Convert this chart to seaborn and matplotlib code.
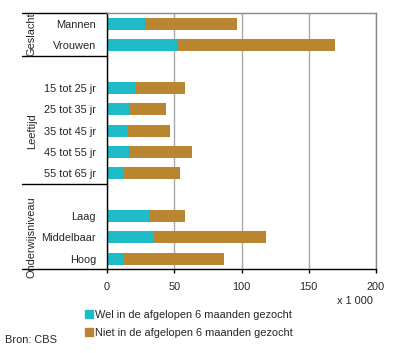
import pandas as pd
import matplotlib
matplotlib.use("Agg")
import matplotlib.pyplot as plt
import matplotlib.patches as mpatches
import matplotlib.transforms as mtrans
import seaborn as sns

# Data (x 1 000)
categorieen = ["Mannen", "Vrouwen",
               "15 tot 25 jr", "25 tot 35 jr", "35 tot 45 jr", "45 tot 55 jr", "55 tot 65 jr",
               "Laag", "Middelbaar", "Hoog"]
wel_gezocht = [28.6, 52.0, 20.6, 16.2, 14.7, 16.7, 11.7, 31.6, 34.6, 12.2]
niet_gezocht = [68.2, 117.2, 37.4, 27.6, 32.1, 46.5, 42.5, 26.4, 83.8, 74.9]
volgorde = ["Mannen", "Vrouwen", "_gap1",
            "15 tot 25 jr", "25 tot 35 jr", "35 tot 45 jr", "45 tot 55 jr", "55 tot 65 jr", "_gap2",
            "Laag", "Middelbaar", "Hoog"]
groepen = ["Geslacht", "Leeftijd", "Onderwijsniveau"]
groep_midden = [0.5, 5.0, 10.0]
scheidingen = [-0.5, 1.5, 7.5, 11.5]

CYAAN = "#1FBBC6"
BRUIN = "#B98530"
FS = 7.9

sns.set_style("white")
plt.rcParams["font.family"] = ["Liberation Sans", "DejaVu Sans"]
plt.rcParams["font.size"] = FS

df = pd.DataFrame({"categorie": categorieen, "wel": wel_gezocht, "niet": niet_gezocht})
df["totaal"] = df["wel"] + df["niet"]

fig = plt.figure(figsize=(3.96, 3.53), dpi=100)
ax = fig.add_axes([0.2702, 0.2371, 0.6793, 0.7252])

sns.barplot(data=df, x="totaal", y="categorie", order=volgorde, color=BRUIN,
            width=0.57, saturation=1, ax=ax, linewidth=0)
sns.barplot(data=df, x="wel", y="categorie", order=volgorde, color=CYAAN,
            width=0.57, saturation=1, ax=ax, linewidth=0)

ax.set_xlim(0, 200)
ax.set_ylim(11.5, -0.5)
ax.set_xticks([0, 50, 100, 150, 200])
ax.set_yticks(range(len(volgorde)))
ax.set_yticklabels(["" if v.startswith("_") else v for v in volgorde])
ax.set_xlabel("")
ax.set_ylabel("")
ax.xaxis.grid(True, color="#A8A8A8", linewidth=1)
ax.set_axisbelow(True)
ax.tick_params(axis="y", length=0, pad=8, labelsize=FS)
ax.tick_params(axis="x", length=3, width=1, color="black", pad=6, labelsize=FS, bottom=True)
for kant in ["top", "right"]:
    ax.spines[kant].set_color("#888888")
    ax.spines[kant].set_linewidth(1)
for kant in ["left", "bottom"]:
    ax.spines[kant].set_color("black")
    ax.spines[kant].set_linewidth(1)

# Groepsindeling links
trans = mtrans.blended_transform_factory(ax.transAxes, ax.transData)
links = (22 - 107) / 269
for y in scheidingen:
    ax.plot([links, 0], [y, y], color="black", linewidth=1, transform=trans, clip_on=False)
for naam, y in zip(groepen, groep_midden):
    ax.text(-0.28, y, naam, rotation=90, ha="center", va="center", transform=trans, fontsize=FS)

fig.text(372.7 / 396, 1 - 301 / 353, "x 1 000", ha="right", va="center", fontsize=FS)
fig.text(5 / 396, 1 - 340 / 353, "Bron: CBS", ha="left", va="center", fontsize=FS)

handles = [mpatches.Patch(color=CYAAN, label="Wel in de afgelopen 6 maanden gezocht"),
           mpatches.Patch(color=BRUIN, label="Niet in de afgelopen 6 maanden gezocht")]
fig.legend(handles=handles, loc="upper left", bbox_to_anchor=(85 / 396, 1 - 310 / 353),
           frameon=False, fontsize=FS, handlelength=0.75, handleheight=0.75,
           handletextpad=0.2, labelspacing=0.75, borderpad=0, borderaxespad=0)

fig.savefig("out.png", dpi=100)
